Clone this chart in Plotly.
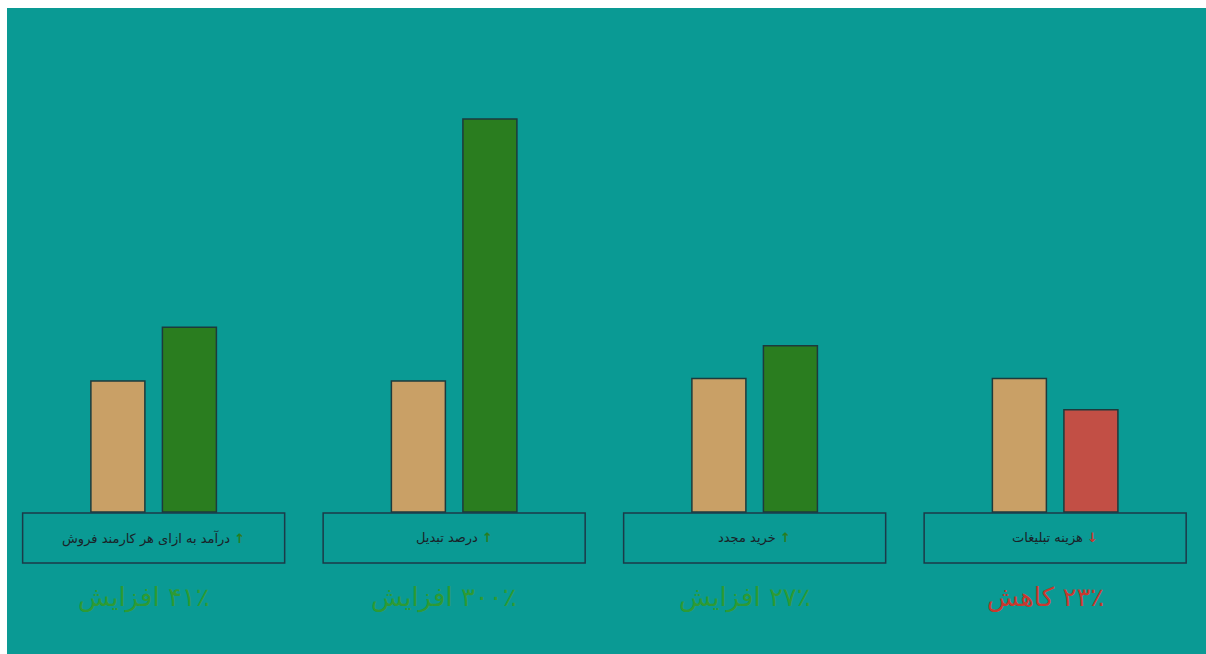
import plotly.graph_objects as go

# ---- data ----
categories = ["درآمد به ازای هر کارمند فروش", "درصد تبدیل", "خرید مجدد", "هزینه تبلیغات"]
before = [100, 100, 102, 102]
after = [141, 300, 127, 78]
change_pct = ["۴۱٪", "۳۰۰٪", "۲۷٪", "۲۳٪"]
change_word = ["افزایش", "افزایش", "افزایش", "کاهش"]
direction = ["up", "up", "up", "down"]

# ---- styles ----
TEAL = "#0a9a94"
BEIGE = "#c9a066"
GREEN = "#2a7d1f"
RED = "#c24f45"
TXT_GREEN = "#2e9a34"
TXT_RED = "#c8382e"
OUTLINE = "#1d3a3c"

after_colors = [GREEN if d == "up" else RED for d in direction]

fig = go.Figure()
fig.add_trace(go.Bar(x=categories, y=before, marker=dict(color=BEIGE, line=dict(color=OUTLINE, width=1.5)),
                     hoverinfo="skip", showlegend=False))
fig.add_trace(go.Bar(x=categories, y=after, marker=dict(color=after_colors, line=dict(color=OUTLINE, width=1.5)),
                     hoverinfo="skip", showlegend=False))

px_per_unit = 1.31
y_lo = -142 / px_per_unit
y_hi = (512 - 8) / px_per_unit

box_half = 0.436
box_top = -0.8
box_bot = -51 / px_per_unit

for i, cat in enumerate(categories):
    fig.add_shape(type="rect", xref="x", yref="y",
                  x0=i - box_half, x1=i + box_half, y0=box_bot, y1=box_top,
                  line=dict(color="#1c3a48", width=1.5), fillcolor="rgba(0,0,0,0)")
    arrow_col = GREEN if direction[i] == "up" else TXT_RED
    arrow = "↑" if direction[i] == "up" else "↓"
    fig.add_annotation(x=i, y=(box_top + box_bot) / 2, xref="x", yref="y",
                       text=cat + " " + f"<span style='color:{arrow_col}'><b>{arrow}</b></span>",
                       showarrow=False, font=dict(size=13, color="#1a2228", family="DejaVu Sans"))
    col = TXT_GREEN if direction[i] == "up" else TXT_RED
    fig.add_annotation(x=i, y=-65, xref="x", yref="y", xshift=-10,
                       text="\u200f" + change_pct[i] + " " + change_word[i],
                       showarrow=False, font=dict(size=26, color=col, family="DejaVu Sans"))

fig.update_layout(
    width=1206, height=654,
    margin=dict(l=7, r=0, t=8, b=0),
    paper_bgcolor="white", plot_bgcolor=TEAL,
    barmode="group", bargap=0.524, bargroupgap=0.245,
    xaxis=dict(range=[-0.488, 3.502], showticklabels=False, showgrid=False, zeroline=False,
               showline=False, ticks=""),
    yaxis=dict(range=[y_lo, y_hi], showticklabels=False, showgrid=False, zeroline=False,
               showline=False, ticks=""),
)

fig.write_html("out.html")
